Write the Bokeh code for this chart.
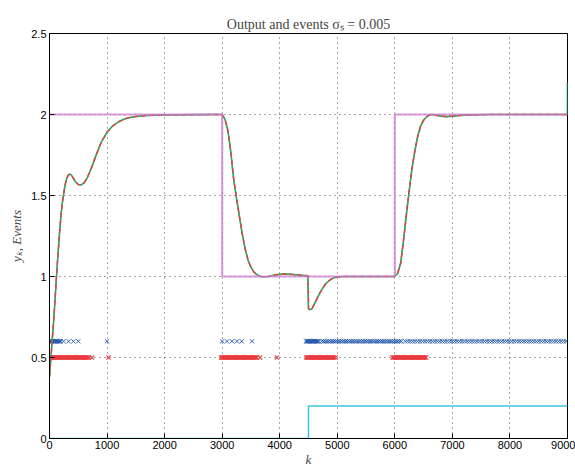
from bokeh.plotting import figure
from bokeh.models import Range1d, FixedTicker
from bokeh.embed import file_html
from bokeh.resources import INLINE

# ---------------- data ----------------
k_out = [0, 25, 50, 75, 100, 125, 150, 175, 200, 225, 250, 275, 300, 325, 350, 375, 400,
         450, 500, 550, 600, 650, 700, 750, 800, 900, 1000, 1100, 1200, 1300, 1400, 1500,
         1700, 2000, 2500, 2990,
         3000, 3050, 3100, 3150, 3200, 3250, 3300, 3350, 3400, 3450, 3500, 3550, 3600, 3650,
         3700, 3800, 3900, 4000, 4100, 4200, 4300, 4400, 4490,
         4500, 4520, 4560, 4600, 4650, 4700, 4750, 4800, 4850, 4900, 4950, 5000, 5100, 5200,
         5400, 5700, 5990,
         6000, 6050, 6100, 6150, 6200, 6250, 6300, 6350, 6400, 6450, 6500, 6550, 6600, 6650,
         6700, 6800, 6900, 7000, 7100, 7200, 7400, 7700, 8000, 8500, 8999, 9000]
y_out = [0.38, 0.50, 0.62, 0.74, 0.88, 1.02, 1.15, 1.27, 1.38, 1.46, 1.52, 1.57, 1.605, 1.625,
         1.632, 1.628, 1.615, 1.585, 1.568, 1.565, 1.578, 1.605, 1.645, 1.69, 1.74, 1.83, 1.89,
         1.93, 1.955, 1.972, 1.982, 1.988, 1.994, 1.997, 1.999, 2.0,
         2.0, 1.97, 1.9, 1.77, 1.6, 1.48, 1.37, 1.26, 1.17, 1.1, 1.058, 1.028, 1.012, 1.002,
         0.998, 1.0, 1.008, 1.013, 1.015, 1.013, 1.01, 1.007, 1.005,
         0.80, 0.795, 0.80, 0.83, 0.865, 0.90, 0.93, 0.955, 0.972, 0.985, 0.993, 0.997, 1.0,
         1.0, 1.0, 1.0, 1.0,
         1.0, 1.02, 1.08, 1.22, 1.38, 1.53, 1.67, 1.78, 1.87, 1.93, 1.965, 1.985, 1.997, 2.0,
         1.997, 1.99, 1.987, 1.99, 1.993, 1.996, 1.998, 2.0, 2.0, 2.0, 2.0, 2.2]

k_ref = [0, 3000, 3000, 6000, 6000, 9000]
y_ref = [2, 2, 1, 1, 2, 2]

k_dist = [0, 4500, 4500, 9000]
y_dist = [0, 0, 0.2, 0.2]

blue_events = [0, 15, 30, 45, 60, 75, 90, 105, 120, 135, 150, 165, 180, 195,
               245, 330, 415, 500, 1000,
               3000, 3085, 3170, 3255, 3340, 3520,
               4455, 4470, 4485, 4500, 4515, 4530, 4545, 4560, 4575, 4590, 4605, 4620, 4635,
               4650, 4665, 4680,
               4730, 4760, 4790, 4820, 4850, 4880, 4910, 4940, 4970, 5000, 5030, 5060, 5090,
               5120, 5150, 5180, 5210, 5240, 5270, 5300, 5330, 5360, 5390, 5420, 5450, 5480,
               5510, 5540, 5570, 5600, 5630, 5660, 5690, 5720, 5750, 5780, 5810, 5840, 5870,
               5900, 5930, 5960, 5990, 6020, 6050, 6080, 6110,
               6180, 6223, 6266, 6309, 6352, 6395, 6438, 6481, 6524, 6567, 6610, 6653, 6696,
               6739, 6782, 6825, 6868, 6911, 6954, 6997, 7040, 7083, 7126, 7169, 7212, 7255,
               7298, 7341, 7384, 7427, 7470, 7513, 7556, 7599, 7642, 7685, 7728, 7771, 7814,
               7857, 7900, 7943, 7986, 8029, 8072, 8115, 8158, 8201, 8244, 8287, 8330, 8373,
               8416, 8459, 8502, 8545, 8588, 8631, 8674, 8717, 8760, 8803, 8846, 8889, 8932,
               8975]
blue_level = 0.6

red_events = [0, 20, 40, 60, 80, 100, 120, 140, 160, 180, 200, 220, 240, 260, 280, 300, 320,
              340, 360, 380, 400, 420, 440, 460, 480, 500, 520, 540, 560, 580, 600, 620, 640,
              660, 680, 740, 1025,
              2980, 3000, 3020, 3040, 3060, 3080, 3100, 3120, 3140, 3160, 3180, 3200, 3220,
              3240, 3260, 3280, 3300, 3320, 3340, 3360, 3380, 3400, 3420, 3440, 3460, 3480,
              3500, 3520, 3540, 3560, 3580, 3600, 3660, 3950,
              4460, 4480, 4500, 4520, 4540, 4560, 4580, 4600, 4620, 4640, 4660, 4680, 4700,
              4720, 4740, 4760, 4780, 4800, 4820, 4840, 4860, 4880, 4900, 4920, 4940, 4970,
              5960, 5980, 6000, 6020, 6040, 6060, 6080, 6100, 6120, 6140, 6160, 6180, 6200,
              6220, 6240, 6260, 6280, 6300, 6320, 6340, 6360, 6380, 6400, 6420, 6440, 6460,
              6480, 6500, 6520, 6545]
red_level = 0.5

x_ticks = [0, 1000, 2000, 3000, 4000, 5000, 6000, 7000, 8000, 9000]
x_tick_labels = ["0", "1000", "2000", "3000", "4000", "5000", "6000", "7000", "8000", "9000"]
y_ticks = [0, 0.5, 1, 1.5, 2, 2.5]
y_tick_labels = ["0", "0.5", "1", "1.5", "2", "2.5"]

# ---------------- figure ----------------
p = figure(width=575, height=469, output_backend="svg", toolbar_location=None,
           x_range=Range1d(0, 9000), y_range=Range1d(0, 2.5),
           min_border_left=49, min_border_right=8, min_border_top=33, min_border_bottom=30,
           title="Output and events σₛ = 0.005")
p.title.align = "center"
p.title.text_font = "Liberation Serif"
p.title.text_font_style = "normal"
p.title.text_font_size = "14px"
p.title.standoff = 4

p.outline_line_color = "black"
p.outline_line_width = 1
p.background_fill_color = "white"
p.border_fill_color = "white"

for ax in (p.xaxis[0], p.yaxis[0]):
    ax.major_tick_in = 5
    ax.major_tick_out = 0
    ax.minor_tick_line_color = None
    ax.axis_line_color = "black"
    ax.major_tick_line_color = "black"
    ax.major_label_text_font = "Liberation Sans"
    ax.major_label_text_font_size = "11px"
    ax.major_label_text_color = "black"
    ax.major_label_standoff = 3
    ax.axis_label_text_font = "Liberation Serif"
    ax.axis_label_text_font_style = "italic"
    ax.axis_label_text_font_size = "13px"
    ax.axis_label_standoff = 4

p.xaxis[0].ticker = FixedTicker(ticks=x_ticks)
p.xaxis[0].major_label_overrides = {t: s for t, s in zip(x_ticks, x_tick_labels)}
p.yaxis[0].ticker = FixedTicker(ticks=y_ticks)
p.yaxis[0].major_label_overrides = {t: s for t, s in zip(y_ticks, y_tick_labels)}
p.xaxis[0].axis_label = "k"
p.yaxis[0].axis_label = "yₖ, Events"
p.xaxis[0].major_label_standoff = 2
p.xaxis[0].axis_label_standoff = 0

for g in (p.xgrid[0], p.ygrid[0]):
    g.grid_line_color = "#333333"
    g.grid_line_dash = "1 4"
    g.grid_line_alpha = 0.85
    g.grid_line_width = 1

# events
p.scatter(blue_events, [blue_level] * len(blue_events), marker="x", size=6,
          line_color="#2256aa", line_width=0.9)
p.scatter(red_events, [red_level] * len(red_events), marker="x", size=6,
          line_color="#ea3a3e", line_width=1.1)

# disturbance
p.line(k_dist, y_dist, line_color="#3cc6de", line_width=1.5)

# output curves
p.line(k_out[:-1], y_out[:-1], line_color="#3a5fc0", line_width=1.0, line_alpha=0.7)
p.line(k_out, y_out, line_color="#1fb060", line_width=1.6)
p.line(k_out[:-1], y_out[:-1], line_color="#e8403a", line_width=1.4, line_dash="5 3")

# reference
p.line(k_ref, y_ref, line_color="#d07ad0", line_width=2.2, line_alpha=0.75)

open("out.html", "w").write(file_html(p, INLINE))
